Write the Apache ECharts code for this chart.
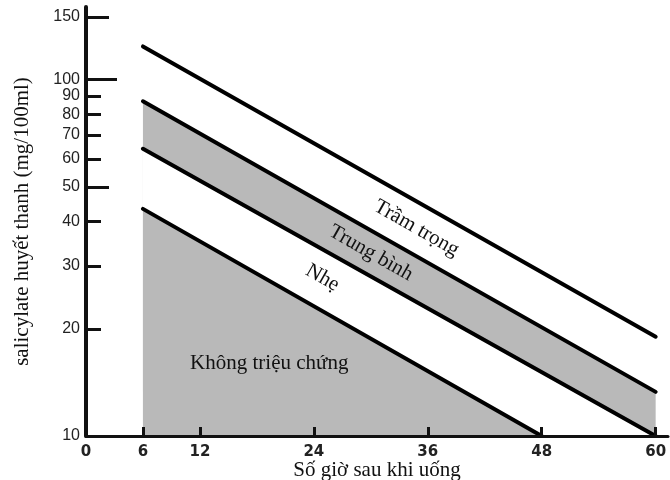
<!DOCTYPE html>
<html>
<head>
<meta charset="utf-8">
<script src="https://cdn.jsdelivr.net/npm/echarts@6/dist/echarts.min.js"></script>
<style>html,body{margin:0;padding:0;background:#fff}#c{width:670px;height:480px}</style>
</head>
<body>
<div id="c"></div>
<script>
// Data
const lineHours = [6, 60];
const severe = [124, 19];
const moderate = [87, 13.3];
const mild = [64, 10];
const asymHours = [6, 48];
const asym = [43.4, 10];
const yTickValues = [10, 20, 30, 40, 50, 60, 70, 80, 90, 100, 150];
const yLongTick = [100];
const yMidTicks = [150, 50];
const yShortTicks = [90, 80, 70, 60, 40, 30, 20];
const xTickLabels = [0, 6, 12, 24, 36, 48, 60];
const xTicks = [6, 12, 24, 36, 48, 60];
const regionLabels = [
  { text: 'Trầm trọng', x: 34.8, y: 38.3, angle: -29.7 },
  { text: 'Trung bình', x: 30.0, y: 32.6, angle: -29.7 },
  { text: 'Nhẹ', x: 24.9, y: 27.8, angle: -29.7 },
  { text: 'Không triệu chứng', x: 19.3, y: 16.0, angle: 0 }
];

const GREY = '#b9b9b9';
const serif = '"Liberation Serif", "DejaVu Serif", serif';
const pair = (xs, ys) => xs.map((x, i) => [x, ys[i]]);

const chart = echarts.init(document.getElementById('c'), null, { renderer: 'canvas' });
const yBase = { type: 'log', min: 10, max: 160, gridIndex: 0, position: 'left', splitLine: { show: false } };
const option = {
  animation: false,
  grid: { left: 86, right: 2, top: 7, bottom: 44, containLabel: false, outerBoundsMode: 'none' },
  xAxis: {
    type: 'value', min: 0, max: 61.3, z: 10,
    name: 'Số giờ sau khi uống', nameLocation: 'middle', nameGap: 24, nameMoveOverlap: false,
    nameTextStyle: { fontFamily: serif, fontSize: 21, color: '#111', verticalAlign: 'top' },
    axisLine: { show: true, lineStyle: { color: '#111', width: 3 } },
    axisTick: { show: true, inside: true, length: 9, customValues: xTicks, lineStyle: { color: '#111', width: 3 } },
    axisLabel: { customValues: xTickLabels, fontFamily: '"DejaVu Sans", sans-serif', fontWeight: 'bold', fontSize: 15, color: '#222', margin: 9 },
    splitLine: { show: false }
  },
  yAxis: [
    Object.assign({}, yBase, {
      z: 10,
      name: 'salicylate huyết thanh (mg/100ml)', nameLocation: 'middle', nameRotate: 90, nameGap: 53,
      nameTextStyle: { fontFamily: serif, fontSize: 21, color: '#111' },
      axisLine: { show: true, lineStyle: { color: '#111', width: 4 } },
      axisTick: { show: true, inside: true, length: 31, customValues: yLongTick, lineStyle: { color: '#111', width: 3 } },
      axisLabel: { customValues: yTickValues, fontFamily: '"Liberation Sans", Arial, sans-serif', fontSize: 16, color: '#222', margin: 6 }
    }),
    Object.assign({}, yBase, {
      z: 10,
      axisLine: { show: false },
      axisTick: { show: true, inside: true, length: 23, customValues: yMidTicks, lineStyle: { color: '#111', width: 3 } },
      axisLabel: { show: false }
    }),
    Object.assign({}, yBase, {
      z: 10,
      axisLine: { show: false },
      axisTick: { show: true, inside: true, length: 15, customValues: yShortTicks, lineStyle: { color: '#111', width: 3 } },
      axisLabel: { show: false }
    })
  ],
  series: [
    { type: 'line', z: 1, data: pair(lineHours, moderate), symbol: 'none',
      lineStyle: { color: '#000', width: 4, cap: 'round' }, areaStyle: { color: GREY, opacity: 1, origin: 'start' } },
    { type: 'line', z: 2, data: pair(lineHours, mild), symbol: 'none',
      lineStyle: { color: '#000', width: 4, cap: 'round' }, areaStyle: { color: '#fff', opacity: 1, origin: 'start' } },
    { type: 'line', z: 3, data: pair(asymHours, asym), symbol: 'none',
      lineStyle: { color: '#000', width: 4, cap: 'round' }, areaStyle: { color: GREY, opacity: 1, origin: 'start' } },
    { type: 'line', z: 4, data: pair(lineHours, severe), symbol: 'none',
      lineStyle: { color: '#000', width: 4, cap: 'round' } }
  ]
};
chart.setOption(option);

const g = regionLabels.map(l => {
  const p = chart.convertToPixel({ gridIndex: 0 }, [l.x, l.y]);
  return {
    type: 'text', x: p[0], y: p[1], rotation: l.angle * Math.PI / 180, z: 20,
    style: { text: l.text, fontFamily: serif, fontSize: 21, fill: '#111', align: 'center', verticalAlign: 'middle' }
  };
});
chart.setOption({ graphic: g });
</script>
</body>
</html>
